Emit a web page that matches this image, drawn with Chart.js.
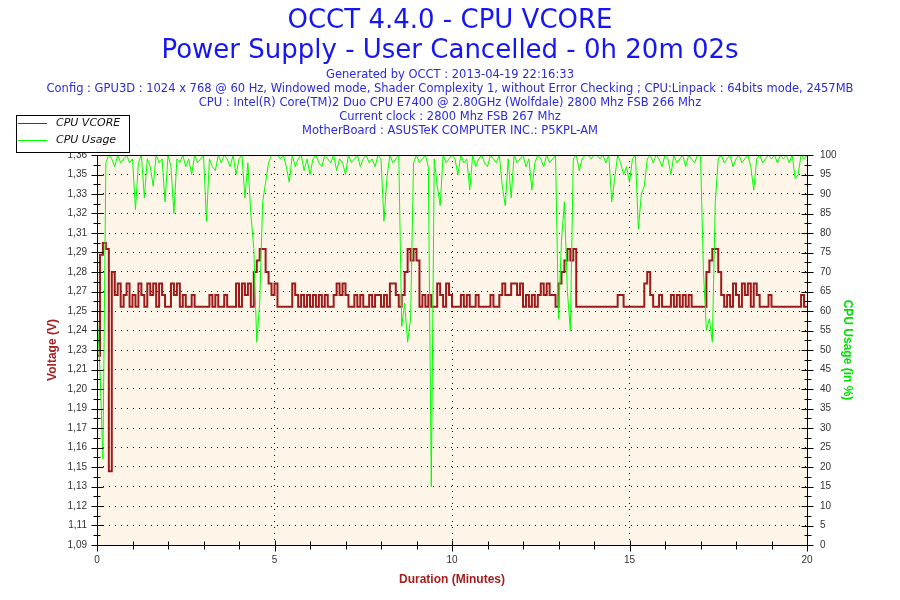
<!DOCTYPE html>
<html>
<head>
<meta charset="utf-8">
<title>OCCT 4.4.0 - CPU VCORE</title>
<script src="https://cdn.jsdelivr.net/npm/chart.js@4"></script>
<style>
  html, body { margin: 0; padding: 0; background: #fff; }
</style>
</head>
<body>
<canvas id="myChart" width="900" height="600"></canvas>
<script>
// one sample every 5 seconds (0h 20m 02s run)
const sampleSeconds = 5;

const titleLines = ["OCCT 4.4.0 - CPU VCORE", "Power Supply - User Cancelled - 0h 20m 02s"];
const infoLines = [
    "Generated by OCCT : 2013-04-19 22:16:33",
    "Config : GPU3D : 1024 x 768 @ 60 Hz, Windowed mode, Shader Complexity 1, without Error Checking ; CPU:Linpack : 64bits mode, 2457MB",
    "CPU : Intel(R) Core(TM)2 Duo CPU E7400 @ 2.80GHz (Wolfdale) 2800 Mhz FSB 266 Mhz",
    "Current clock : 2800 Mhz FSB 267 Mhz",
    "MotherBoard : ASUSTeK COMPUTER INC.: P5KPL-AM",
];

const voltMin = 1.092;
const voltMax = 1.362;
const voltLabels = ["1,09", "1,11", "1,12", "1,13", "1,15", "1,16", "1,17", "1,19", "1,20", "1,21", "1,23",
    "1,24", "1,25", "1,27", "1,28", "1,29", "1,31", "1,32", "1,33", "1,35", "1,36"];

// CPU VCORE (V)
const vcore = [
    1.223, 1.293, 1.301, 1.297, 1.143, 1.281, 1.265, 1.273, 1.257, 1.265, 1.273, 1.257,
    1.265, 1.257, 1.273, 1.265, 1.257, 1.273, 1.265, 1.273, 1.257, 1.273, 1.265, 1.257,
    1.257, 1.273, 1.265, 1.273, 1.257, 1.265, 1.257, 1.257, 1.265, 1.257, 1.257, 1.257,
    1.257, 1.257, 1.265, 1.257, 1.265, 1.257, 1.257, 1.265, 1.257, 1.257, 1.257, 1.273,
    1.257, 1.273, 1.265, 1.273, 1.257, 1.281, 1.289, 1.297, 1.297, 1.281, 1.273, 1.265,
    1.273, 1.257, 1.257, 1.257, 1.257, 1.257, 1.273, 1.265, 1.257, 1.265, 1.257, 1.265,
    1.257, 1.265, 1.257, 1.265, 1.257, 1.265, 1.257, 1.257, 1.265, 1.273, 1.265, 1.273,
    1.265, 1.257, 1.257, 1.265, 1.257, 1.265, 1.257, 1.257, 1.265, 1.257, 1.265, 1.265,
    1.257, 1.265, 1.257, 1.273, 1.273, 1.265, 1.257, 1.265, 1.281, 1.297, 1.289, 1.297,
    1.289, 1.257, 1.265, 1.257, 1.265, 1.257, 1.257, 1.273, 1.265, 1.257, 1.273, 1.265,
    1.257, 1.257, 1.257, 1.265, 1.257, 1.265, 1.257, 1.257, 1.265, 1.257, 1.257, 1.257,
    1.257, 1.265, 1.257, 1.257, 1.265, 1.273, 1.265, 1.265, 1.273, 1.273, 1.265, 1.273,
    1.257, 1.265, 1.257, 1.265, 1.257, 1.265, 1.273, 1.265, 1.273, 1.265, 1.265, 1.257,
    1.273, 1.281, 1.289, 1.297, 1.289, 1.297, 1.257, 1.257, 1.257, 1.257, 1.257, 1.257,
    1.257, 1.257, 1.257, 1.257, 1.257, 1.257, 1.257, 1.257, 1.265, 1.265, 1.257, 1.257,
    1.257, 1.257, 1.257, 1.257, 1.257, 1.273, 1.281, 1.265, 1.257, 1.257, 1.265, 1.257,
    1.257, 1.257, 1.265, 1.257, 1.265, 1.257, 1.265, 1.257, 1.265, 1.257, 1.257, 1.257,
    1.257, 1.257, 1.281, 1.289, 1.297, 1.297, 1.281, 1.265, 1.257, 1.265, 1.257, 1.273,
    1.265, 1.257, 1.273, 1.265, 1.273, 1.257, 1.273, 1.265, 1.257, 1.257, 1.257, 1.265,
    1.257, 1.257, 1.257, 1.257, 1.257, 1.257, 1.257, 1.257, 1.257, 1.257, 1.265, 1.257,
    1.257,
];

// CPU Usage (%)
const cpuUsage = [
    60, 45, 22, 98, 100, 99, 97, 100, 98, 99, 100, 98,
    99, 86, 98, 100, 89, 99, 97, 92, 100, 98, 99, 88,
    100, 97, 85, 99, 98, 100, 97, 99, 95, 100, 98, 99,
    100, 83, 99, 97, 96, 100, 98, 100, 99, 97, 100, 95,
    99, 100, 89, 98, 85, 76, 52, 62, 88, 93, 98, 100,
    100, 100, 99, 100, 97, 93, 100, 97, 99, 100, 96, 99,
    95, 99, 100, 98, 97, 100, 99, 98, 100, 96, 99, 98,
    95, 100, 98, 99, 100, 97, 99, 100, 98, 99, 97, 100,
    99, 83, 94, 100, 98, 99, 100, 56, 62, 52, 58, 98,
    100, 98, 99, 100, 97, 15, 99, 92, 87, 100, 98, 99,
    100, 99, 95, 100, 98, 99, 91, 100, 97, 99, 100, 98,
    97, 100, 99, 98, 100, 92, 87, 99, 89, 100, 98, 99,
    100, 97, 99, 91, 98, 100, 99, 97, 100, 98, 99, 100,
    58, 78, 88, 65, 55, 99, 100, 96, 99, 100, 100, 99,
    100, 100, 99, 100, 98, 100, 88, 94, 100, 98, 95, 97,
    93, 99, 100, 81, 90, 92, 99, 100, 98, 100, 99, 97,
    100, 99, 95, 100, 98, 99, 100, 97, 100, 99, 98, 100,
    100, 70, 55, 58, 52, 88, 99, 100, 98, 99, 100, 97,
    99, 100, 98, 99, 100, 97, 91, 99, 100, 98, 99, 100,
    99, 100, 98, 100, 99, 100, 98, 100, 94, 95, 100, 99,
    100,
];

const toPoints = arr => arr.map((v, i) => ({ x: (i * sampleSeconds) / 60, y: v }));
const voltStep = (voltMax - voltMin) / (voltLabels.length - 1);

// plot background, frame, tick marks and the boxed legend
const occtDecor = {
    id: "occtDecor",
    beforeDraw(chart) {
        const { ctx, chartArea: a } = chart;
        ctx.save();
        ctx.fillStyle = "#fdf6e8";
        ctx.fillRect(a.left, a.top, a.right - a.left, a.bottom - a.top);
        ctx.restore();
    },
    afterDraw(chart) {
        const { ctx, chartArea: a } = chart;
        const yl = chart.scales.y;
        const yr = chart.scales.y1;
        const xs = chart.scales.x;
        ctx.save();
        ctx.strokeStyle = "#000";
        ctx.lineWidth = 1;
        ctx.strokeRect(Math.round(a.left) + 0.5, Math.round(a.top) + 0.5,
            Math.round(a.right - a.left), Math.round(a.bottom - a.top));

        ctx.beginPath();
        const lx = Math.round(a.left) + 0.5;
        const rx = Math.round(a.right) + 0.5;
        yl.ticks.forEach((t, i) => {
            const y = Math.round(yl.getPixelForValue(t.value)) + 0.5;
            ctx.moveTo(lx - 6, y); ctx.lineTo(lx + 6, y);
            if (i > 0) {
                const ym = Math.round(yl.getPixelForValue(t.value - voltStep / 2)) + 0.5;
                ctx.moveTo(lx - 4, ym); ctx.lineTo(lx + 3, ym);
            }
        });
        yr.ticks.forEach((t, i) => {
            const y = Math.round(yr.getPixelForValue(t.value)) + 0.5;
            ctx.moveTo(rx - 6, y); ctx.lineTo(rx + 6, y);
            if (i > 0) {
                const ym = Math.round(yr.getPixelForValue(t.value - 2.5)) + 0.5;
                ctx.moveTo(rx - 3, ym); ctx.lineTo(rx + 4, ym);
            }
        });
        const by = Math.round(a.bottom) + 0.5;
        for (let m = 0; m <= xs.max; m++) {
            const x = Math.round(xs.getPixelForValue(m)) + 0.5;
            if (m % 5 === 0) { ctx.moveTo(x, by - 5); ctx.lineTo(x, by + 6); }
            else { ctx.moveTo(x, by - 4); ctx.lineTo(x, by + 4); }
        }
        ctx.stroke();

        // legend box
        const bx = 16, bw = 113, bt = 115, bh = 37;
        ctx.fillStyle = "#fff";
        ctx.fillRect(bx, bt, bw, bh);
        ctx.strokeRect(bx + 0.5, bt + 0.5, bw, bh);
        ctx.font = "italic 11px 'DejaVu Sans'";
        ctx.textBaseline = "middle";
        chart.data.datasets.forEach((ds, i) => {
            const y = bt + 8.5 + i * 17;
            ctx.strokeStyle = ds.borderColor;
            ctx.lineWidth = 1;
            ctx.beginPath();
            ctx.moveTo(bx + 2, y); ctx.lineTo(bx + 31, y);
            ctx.stroke();
            ctx.fillStyle = "#111";
            ctx.fillText(ds.label, bx + 40, y);
        });
        ctx.restore();
    },
};

const tickFont = { family: "'Liberation Sans', Arial", size: 10 };
const dotted = [1, 5];

const printChart = () => {
    const ctx = document.getElementById("myChart").getContext("2d");
    new Chart(ctx, {
        type: "line",
        data: {
            datasets: [
                {
                    label: "CPU VCORE",
                    data: toPoints(vcore),
                    yAxisID: "y",
                    borderColor: "#9c1a1a",
                    borderWidth: 2,
                    stepped: true,
                    pointRadius: 0,
                    order: 1,
                },
                {
                    label: "CPU Usage",
                    data: toPoints(cpuUsage),
                    yAxisID: "y1",
                    borderColor: "#00ff00",
                    borderWidth: 1,
                    pointRadius: 0,
                    tension: 0,
                    order: 0,
                },
            ],
        },
        options: {
            responsive: false,
            animation: false,
            events: [],
            layout: { padding: 0 },
            plugins: {
                legend: { display: false },
                tooltip: { enabled: false },
                title: {
                    display: true,
                    text: titleLines,
                    color: "#1616f2",
                    font: { family: "'DejaVu Sans'", size: 26, weight: "normal", lineHeight: "30px" },
                    padding: { top: 6, bottom: 2 },
                },
                subtitle: {
                    display: true,
                    text: infoLines,
                    color: "#2a2ae0",
                    font: { family: "'DejaVu Sans'", size: 11.5, lineHeight: "14px" },
                    padding: { top: 0, bottom: 17 },
                },
            },
            scales: {
                x: {
                    type: "linear",
                    min: 0,
                    max: 20,
                    ticks: { stepSize: 5, color: "#333", font: tickFont, padding: 9, maxRotation: 0 },
                    grid: {
                        drawTicks: false,
                        color: c => (c.tick && c.tick.value > 0 && c.tick.value < 20 ? "#000" : "rgba(0,0,0,0)"),
                    },
                    border: { display: false, dash: dotted },
                    title: {
                        display: true,
                        text: "Duration (Minutes)",
                        color: "#a51e1e",
                        font: { family: "'Liberation Sans', Arial", size: 12, weight: "bold" },
                        padding: { top: 0, bottom: 13 },
                    },
                    afterFit: s => { s.height = 55; },
                },
                y: {
                    position: "left",
                    min: voltMin,
                    max: voltMax,
                    afterBuildTicks: axis => {
                        axis.ticks = voltLabels.map((_, i) => ({ value: voltMin + i * voltStep }));
                    },
                    ticks: { callback: (v, i) => voltLabels[i], color: "#333", font: tickFont, padding: 10 },
                    grid: { drawTicks: false, color: "#000" },
                    border: { display: false, dash: dotted },
                    title: {
                        display: true,
                        text: "Voltage (V)",
                        color: "#a51e1e",
                        font: { family: "'Liberation Sans', Arial", size: 12, weight: "bold" },
                        padding: { top: 45, bottom: 0 },
                    },
                    afterFit: s => { s.width = 97; },
                },
                y1: {
                    position: "right",
                    min: 0,
                    max: 100,
                    ticks: { stepSize: 5, color: "#333", font: tickFont, padding: 13 },
                    grid: { display: false, drawTicks: false },
                    border: { display: false },
                    title: {
                        display: true,
                        text: "CPU Usage (in %)",
                        color: "#00e000",
                        font: { family: "'Liberation Sans', Arial", size: 12, weight: "bold" },
                        padding: { top: 45, bottom: 0 },
                    },
                    afterFit: s => { s.width = 93; },
                },
            },
        },
        plugins: [occtDecor],
    });
};

printChart();
</script>
</body>
</html>
